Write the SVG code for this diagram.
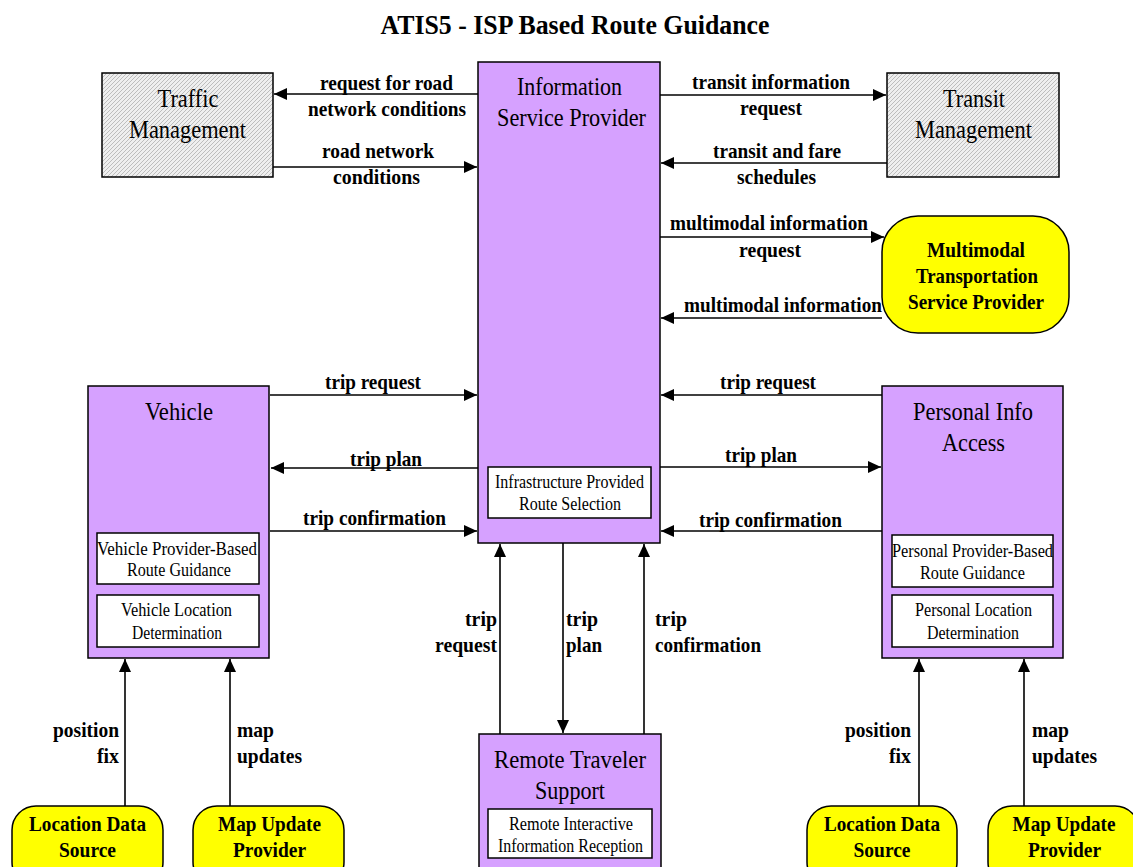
<svg xmlns="http://www.w3.org/2000/svg" width="1133" height="867" viewBox="0 0 1133 867">
<style>
  .box{fill:#D6A1FF;stroke:#000;stroke-width:1.5}
  .inner{fill:#fff;stroke:#000;stroke-width:1.5}
  .hatch{fill:url(#hatch);stroke:#000;stroke-width:1.5}
  .yel{fill:#FFFF00;stroke:#000;stroke-width:1.5}
  .ln{stroke:#000;stroke-width:1.6;fill:none;marker-end:url(#ah)}
  text{font-family:"Liberation Serif","Times New Roman",serif;fill:#000}
  .t{font-size:26px;text-anchor:middle}
  .s{font-size:18px;text-anchor:middle}
  .b{font-size:22px;font-weight:bold;text-anchor:middle}
  .bs{font-size:22px;font-weight:bold;text-anchor:start}
  .be{font-size:22px;font-weight:bold;text-anchor:end}
</style>
<defs>
  <pattern id="hatch" patternUnits="userSpaceOnUse" width="4" height="4">
    <rect width="4" height="4" fill="#EFEFEF"/>
    <path d="M-1,1 L1,-1 M0,4 L4,0 M3,5 L5,3" stroke="#BDBDBD" stroke-width="1"/>
  </pattern>
  <marker id="ah" markerUnits="userSpaceOnUse" markerWidth="14" markerHeight="12" refX="13" refY="6" orient="auto">
    <path d="M0,0 L13,6 L0,12 z" fill="#000"/>
  </marker>
</defs>

<text x="575" y="34" font-size="28" font-weight="bold" text-anchor="middle" textLength="389" lengthAdjust="spacingAndGlyphs">ATIS5 - ISP Based Route Guidance</text>

<g id="connectors">
  <line class="ln" x1="478" y1="94" x2="274" y2="94"/>
  <line class="ln" x1="273" y1="167" x2="477" y2="167"/>
  <line class="ln" x1="660" y1="95" x2="886" y2="95"/>
  <line class="ln" x1="887" y1="163" x2="661" y2="163"/>
  <line class="ln" x1="660" y1="237" x2="884" y2="237"/>
  <line class="ln" x1="882" y1="318" x2="661" y2="318"/>
  <line class="ln" x1="270" y1="395" x2="477" y2="395"/>
  <line class="ln" x1="478" y1="468" x2="271" y2="468"/>
  <line class="ln" x1="270" y1="531" x2="477" y2="531"/>
  <line class="ln" x1="882" y1="395" x2="661" y2="395"/>
  <line class="ln" x1="660" y1="467" x2="881" y2="467"/>
  <line class="ln" x1="882" y1="531" x2="661" y2="531"/>
  <line class="ln" x1="500" y1="734" x2="500" y2="544"/>
  <line class="ln" x1="563" y1="543" x2="563" y2="733"/>
  <line class="ln" x1="644" y1="734" x2="644" y2="544"/>
  <line class="ln" x1="125" y1="806" x2="125" y2="659"/>
  <line class="ln" x1="230" y1="806" x2="230" y2="659"/>
  <line class="ln" x1="919" y1="806" x2="919" y2="659"/>
  <line class="ln" x1="1024" y1="806" x2="1024" y2="659"/>

  <text class="b" x="386.5" y="90" textLength="133" lengthAdjust="spacingAndGlyphs">request for road</text>
  <text class="b" x="387" y="116" textLength="158" lengthAdjust="spacingAndGlyphs">network conditions</text>
  <text class="b" x="378" y="158" textLength="112" lengthAdjust="spacingAndGlyphs">road network</text>
  <text class="b" x="376.5" y="184" textLength="87" lengthAdjust="spacingAndGlyphs">conditions</text>
  <text class="b" x="771" y="89" textLength="158" lengthAdjust="spacingAndGlyphs">transit information</text>
  <text class="b" x="771" y="115" textLength="62" lengthAdjust="spacingAndGlyphs">request</text>
  <text class="b" x="777" y="158" textLength="128" lengthAdjust="spacingAndGlyphs">transit and fare</text>
  <text class="b" x="776.5" y="184" textLength="79" lengthAdjust="spacingAndGlyphs">schedules</text>
  <text class="b" x="769" y="230" textLength="198" lengthAdjust="spacingAndGlyphs">multimodal information</text>
  <text class="b" x="770" y="257" textLength="62" lengthAdjust="spacingAndGlyphs">request</text>
  <text class="b" x="783" y="312" textLength="198" lengthAdjust="spacingAndGlyphs">multimodal information</text>
  <text class="b" x="373" y="389" textLength="96" lengthAdjust="spacingAndGlyphs">trip request</text>
  <text class="b" x="386" y="466" textLength="72" lengthAdjust="spacingAndGlyphs">trip plan</text>
  <text class="b" x="374.5" y="525" textLength="143" lengthAdjust="spacingAndGlyphs">trip confirmation</text>
  <text class="b" x="768" y="389" textLength="96" lengthAdjust="spacingAndGlyphs">trip request</text>
  <text class="b" x="761" y="462" textLength="72" lengthAdjust="spacingAndGlyphs">trip plan</text>
  <text class="b" x="770.5" y="527" textLength="143" lengthAdjust="spacingAndGlyphs">trip confirmation</text>
  <text class="be" x="497" y="626" textLength="32" lengthAdjust="spacingAndGlyphs">trip</text>
  <text class="be" x="497" y="652" textLength="62" lengthAdjust="spacingAndGlyphs">request</text>
  <text class="bs" x="566" y="626" textLength="32" lengthAdjust="spacingAndGlyphs">trip</text>
  <text class="bs" x="566" y="652" textLength="36" lengthAdjust="spacingAndGlyphs">plan</text>
  <text class="bs" x="655" y="626" textLength="32" lengthAdjust="spacingAndGlyphs">trip</text>
  <text class="bs" x="655" y="652" textLength="106" lengthAdjust="spacingAndGlyphs">confirmation</text>
  <text class="be" x="119" y="737" textLength="66" lengthAdjust="spacingAndGlyphs">position</text>
  <text class="be" x="119" y="763" textLength="22" lengthAdjust="spacingAndGlyphs">fix</text>
  <text class="bs" x="237" y="737" textLength="37" lengthAdjust="spacingAndGlyphs">map</text>
  <text class="bs" x="237" y="763" textLength="65" lengthAdjust="spacingAndGlyphs">updates</text>
  <text class="be" x="911" y="737" textLength="66" lengthAdjust="spacingAndGlyphs">position</text>
  <text class="be" x="911" y="763" textLength="22" lengthAdjust="spacingAndGlyphs">fix</text>
  <text class="bs" x="1032" y="737" textLength="37" lengthAdjust="spacingAndGlyphs">map</text>
  <text class="bs" x="1032" y="763" textLength="65" lengthAdjust="spacingAndGlyphs">updates</text>
</g>

<g id="traffic-management">
  <rect class="hatch" x="102" y="73" width="171" height="104"/>
  <text class="t" x="188" y="107" textLength="61" lengthAdjust="spacingAndGlyphs">Traffic</text>
  <text class="t" x="187.5" y="138" textLength="117" lengthAdjust="spacingAndGlyphs">Management</text>
</g>

<g id="transit-management">
  <rect class="hatch" x="887" y="73" width="172" height="104"/>
  <text class="t" x="974" y="107" textLength="62" lengthAdjust="spacingAndGlyphs">Transit</text>
  <text class="t" x="973.5" y="138" textLength="117" lengthAdjust="spacingAndGlyphs">Management</text>
</g>

<g id="isp">
  <rect class="box" x="478" y="62" width="182" height="481"/>
  <text class="t" x="569.5" y="95" textLength="105" lengthAdjust="spacingAndGlyphs">Information</text>
  <text class="t" x="571.5" y="126" textLength="149" lengthAdjust="spacingAndGlyphs">Service Provider</text>
  <rect class="inner" x="488" y="467" width="163" height="51"/>
  <text class="s" x="569.5" y="488" textLength="149" lengthAdjust="spacingAndGlyphs">Infrastructure Provided</text>
  <text class="s" x="570" y="510" textLength="102" lengthAdjust="spacingAndGlyphs">Route Selection</text>
</g>

<g id="multimodal">
  <rect class="yel" x="882" y="216" width="187" height="117" rx="36" ry="36"/>
  <text class="b" x="976" y="257" textLength="98" lengthAdjust="spacingAndGlyphs">Multimodal</text>
  <text class="b" x="977" y="283" textLength="122" lengthAdjust="spacingAndGlyphs">Transportation</text>
  <text class="b" x="976" y="309" textLength="136" lengthAdjust="spacingAndGlyphs">Service Provider</text>
</g>

<g id="vehicle">
  <rect class="box" x="88" y="386" width="181" height="272"/>
  <text class="t" x="179" y="420" textLength="68" lengthAdjust="spacingAndGlyphs">Vehicle</text>
  <rect class="inner" x="97" y="533" width="162" height="51"/>
  <text class="s" x="177" y="555" textLength="160" lengthAdjust="spacingAndGlyphs">Vehicle Provider-Based</text>
  <text class="s" x="179" y="576" textLength="104" lengthAdjust="spacingAndGlyphs">Route Guidance</text>
  <rect class="inner" x="97" y="595" width="162" height="52"/>
  <text class="s" x="176.5" y="616" textLength="111" lengthAdjust="spacingAndGlyphs">Vehicle Location</text>
  <text class="s" x="177" y="639" textLength="90" lengthAdjust="spacingAndGlyphs">Determination</text>
</g>

<g id="personal-info-access">
  <rect class="box" x="882" y="386" width="181" height="272"/>
  <text class="t" x="973" y="420" textLength="120" lengthAdjust="spacingAndGlyphs">Personal Info</text>
  <text class="t" x="973.5" y="451" textLength="63" lengthAdjust="spacingAndGlyphs">Access</text>
  <rect class="inner" x="892" y="535" width="161" height="52"/>
  <text class="s" x="972.5" y="557" textLength="161" lengthAdjust="spacingAndGlyphs">Personal Provider-Based</text>
  <text class="s" x="972.5" y="579" textLength="105" lengthAdjust="spacingAndGlyphs">Route Guidance</text>
  <rect class="inner" x="892" y="595" width="161" height="52"/>
  <text class="s" x="973.5" y="616" textLength="117" lengthAdjust="spacingAndGlyphs">Personal Location</text>
  <text class="s" x="973" y="639" textLength="92" lengthAdjust="spacingAndGlyphs">Determination</text>
</g>

<g id="remote-traveler-support">
  <rect class="box" x="479" y="734" width="182" height="140"/>
  <text class="t" x="570" y="768" textLength="152" lengthAdjust="spacingAndGlyphs">Remote Traveler</text>
  <text class="t" x="570" y="799" textLength="70" lengthAdjust="spacingAndGlyphs">Support</text>
  <rect class="inner" x="488" y="809" width="164" height="49"/>
  <text class="s" x="571" y="830" textLength="124" lengthAdjust="spacingAndGlyphs">Remote Interactive</text>
  <text class="s" x="570.5" y="852" textLength="145" lengthAdjust="spacingAndGlyphs">Information Reception</text>
</g>

<g id="location-data-source-left">
  <rect class="yel" x="12" y="806" width="151" height="80" rx="24" ry="24"/>
  <text class="b" x="87.5" y="831" textLength="117" lengthAdjust="spacingAndGlyphs">Location Data</text>
  <text class="b" x="87.5" y="857" textLength="57" lengthAdjust="spacingAndGlyphs">Source</text>
</g>

<g id="map-update-provider-left">
  <rect class="yel" x="193" y="806" width="151" height="80" rx="24" ry="24"/>
  <text class="b" x="269.5" y="831" textLength="103" lengthAdjust="spacingAndGlyphs">Map Update</text>
  <text class="b" x="269.5" y="857" textLength="73" lengthAdjust="spacingAndGlyphs">Provider</text>
</g>

<g id="location-data-source-right">
  <rect class="yel" x="807" y="806" width="150" height="80" rx="24" ry="24"/>
  <text class="b" x="882" y="831" textLength="116" lengthAdjust="spacingAndGlyphs">Location Data</text>
  <text class="b" x="882" y="857" textLength="57" lengthAdjust="spacingAndGlyphs">Source</text>
</g>

<g id="map-update-provider-right">
  <rect class="yel" x="988" y="806" width="151" height="80" rx="24" ry="24"/>
  <text class="b" x="1064" y="831" textLength="103" lengthAdjust="spacingAndGlyphs">Map Update</text>
  <text class="b" x="1064.5" y="857" textLength="73" lengthAdjust="spacingAndGlyphs">Provider</text>
</g>
</svg>
